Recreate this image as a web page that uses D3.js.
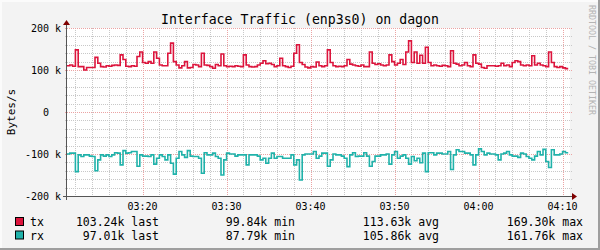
<!DOCTYPE html>
<html lang="en">
<head>
<meta charset="UTF-8">
<title>Interface Traffic (enp3s0) on dagon</title>
<script src="https://cdnjs.cloudflare.com/ajax/libs/d3/7.8.5/d3.min.js"></script>
<style>
  body { margin: 0; background: #fff; }
  svg { display: block; font-family: "DejaVu Sans Mono", monospace; }
  text { white-space: pre; }
</style>
</head>
<body>
<div id="chart"></div>
<script>
// samples every 20 s from 03:11:00, values in kB/s
const startTime = "03:11:00";
const stepSeconds = 20;

const txValues = [
  110, 112, 109, 148, 108, 108, 100, 106, 106, 106,
  130, 116, 108, 107, 110, 109, 111, 112, 111, 136,
  125, 109, 108, 110, 109, 132, 143, 118, 116, 120,
  116, 143, 128, 112, 110, 110, 140, 164, 120, 112,
  105, 110, 120, 105, 106, 113, 112, 108, 140, 112,
  111, 108, 104, 113, 110, 138, 110, 108, 109, 108,
  110, 109, 108, 136, 112, 108, 107, 108, 112, 116,
  122, 115, 116, 113, 108, 110, 128, 110, 108, 106,
  109, 140, 160, 118, 113, 107, 105, 108, 107, 119,
  110, 108, 110, 148, 118, 110, 108, 109, 108, 110,
  125, 114, 112, 110, 109, 112, 108, 108, 143, 116,
  113, 115, 112, 110, 112, 136, 120, 112, 116, 125,
  113, 143, 169.3, 118, 143, 116, 135, 116, 154, 118,
  110, 112, 110, 109, 111, 110, 108, 146, 116, 114,
  110, 112, 118, 110, 108, 136, 116, 114, 106, 104,
  110, 110, 110, 109, 110, 116, 110, 112, 108, 118,
  122, 120, 112, 110, 112, 110, 134, 112, 116, 112,
  110, 108, 143, 118, 108, 106, 108, 105, 103.24
];

const rxValues = [
  100, 98, 98, 142, 102, 106, 102, 102, 105, 106,
  140, 114, 102, 105, 102, 106, 102, 97, 98, 126,
  92, 98, 97, 94, 94, 129, 102, 105, 105, 106,
  102, 124, 110, 102, 106, 114, 102, 122, 148, 110,
  94, 102, 108, 92, 105, 106, 106, 110, 146, 97,
  102, 102, 98, 106, 110, 150, 114, 98, 100, 100,
  105, 102, 102, 102, 126, 102, 102, 102, 105, 114,
  110, 122, 110, 98, 110, 106, 106, 110, 110, 110,
  102, 126, 114, 161.76, 102, 100, 100, 100, 94, 110,
  105, 98, 98, 129, 114, 100, 102, 102, 105, 110,
  130, 102, 97, 106, 105, 105, 97, 105, 129, 118,
  105, 105, 102, 102, 100, 124, 102, 94, 110, 105,
  102, 110, 124, 106, 116, 110, 121, 98, 142, 97,
  97, 102, 98, 98, 100, 100, 94, 137, 102, 90,
  94, 94, 98, 98, 102, 126, 102, 87.79, 94, 102,
  98, 100, 100, 102, 114, 100, 98, 94, 102, 105,
  105, 108, 98, 100, 106, 110, 114, 105, 94, 102,
  89, 118, 132, 90, 102, 102, 100, 94, 97.01
];

const timeLabels = ["03:20", "03:30", "03:40", "03:50", "04:00", "04:10"];
const timeDomain = ["03:11", "04:11"];
const yTickValues = [-200000, -100000, 0, 100000, 200000];
const yTickLabels = ["-200 k", "-100 k", "0  ", "100 k", "200 k"];

const seriesNames = ["tx", "rx"];
const statNames = ["last", "min", "avg", "max"];
const txStats = [103.24, 99.84, 113.63, 169.30];
const rxStats = [97.01, 87.79, 105.86, 161.76];

const colors = { tx: "#DC143C", rx: "#20B2AA" };

const W = 600, H = 250;
const plot = { left: 67, right: 571, top: 28, bottom: 196 };

const svg = d3.select("#chart").append("svg")
  .attr("width", W).attr("height", H);

// background and 3d frame
svg.append("rect").attr("width", W).attr("height", H).attr("fill", "#F3F3F3");
svg.append("path").attr("d", `M1,${H} V1 H${W}`).attr("fill", "none")
  .attr("stroke", "#FBFBFB").attr("stroke-width", 2);
svg.append("path").attr("d", `M0,${H - 1} H${W - 1} V0`).attr("fill", "none")
  .attr("stroke", "#9E9E9E").attr("stroke-width", 2);

svg.append("rect")
  .attr("x", plot.left).attr("y", plot.top)
  .attr("width", plot.right - plot.left - 1).attr("height", plot.bottom - plot.top)
  .attr("fill", "#fff");

const parseHM = d3.utcParse("%H:%M");
const parseHMS = d3.utcParse("%H:%M:%S");
const t0 = parseHMS(startTime);

const x = d3.scaleUtc()
  .domain(timeDomain.map(parseHM))
  .range([plot.left, plot.right]);
const y = d3.scaleLinear()
  .domain([-200000, 200000])
  .range([plot.bottom, plot.top]);

const px = v => Math.round(v) + 0.5;

// grid
const grid = svg.append("g").attr("shape-rendering", "crispEdges");
const majorTimes = timeLabels.map(parseHM);
const majorKeys = new Set(majorTimes.map(d => +d));
const minorTimes = x.ticks(d3.utcMinute.every(2)).filter(d => !majorKeys.has(+d));
const hMinor = d3.range(-200000, 200001, 20000).filter(v => v % 100000 !== 0);

grid.selectAll(".vmin").data(minorTimes).join("line")
  .attr("x1", d => px(x(d))).attr("x2", d => px(x(d)))
  .attr("y1", plot.top).attr("y2", plot.bottom + 2)
  .attr("stroke", "#C8C8C8").attr("stroke-dasharray", "1,1");
grid.selectAll(".hmin").data(hMinor).join("line")
  .attr("x1", plot.left - 2).attr("x2", plot.right + 1)
  .attr("y1", d => px(y(d))).attr("y2", d => px(y(d)))
  .attr("stroke", "#C8C8C8").attr("stroke-dasharray", "1,1");
grid.selectAll(".vmaj").data(majorTimes).join("line")
  .attr("x1", d => px(x(d))).attr("x2", d => px(x(d)))
  .attr("y1", plot.top).attr("y2", plot.bottom + 2)
  .attr("stroke", "#EBA3A3").attr("stroke-dasharray", "1,1");
grid.selectAll(".hmaj").data(yTickValues).join("line")
  .attr("x1", plot.left - 2).attr("x2", plot.right + 1)
  .attr("y1", d => px(y(d))).attr("y2", d => px(y(d)))
  .attr("stroke", "#EBA3A3").attr("stroke-dasharray", "1,1");

// series
function series(values, sign) {
  const pts = values.map((v, i) => ({ t: new Date(+t0 + i * stepSeconds * 1000), v: sign * v * 1000 }));
  const last = pts[pts.length - 1];
  pts.push({ t: new Date(+last.t + stepSeconds * 1000), v: last.v });
  return pts;
}
const line = d3.line().x(d => x(d.t)).y(d => y(d.v)).curve(d3.curveStepAfter);

svg.append("path").datum(series(txValues, 1))
  .attr("fill", "none").attr("stroke", colors.tx).attr("stroke-width", 1.6)
  .attr("d", line);
svg.append("path").datum(series(rxValues, -1))
  .attr("fill", "none").attr("stroke", colors.rx).attr("stroke-width", 1.6)
  .attr("d", line);

// axes
const axisColor = "#555", arrowColor = "#7F0000";
svg.append("line")
  .attr("x1", plot.left - 4).attr("x2", plot.right + 2)
  .attr("y1", px(plot.bottom)).attr("y2", px(plot.bottom))
  .attr("stroke", axisColor).attr("shape-rendering", "crispEdges");
svg.append("line")
  .attr("x1", px(plot.left - 1)).attr("x2", px(plot.left - 1))
  .attr("y1", plot.bottom + 4).attr("y2", plot.top - 4)
  .attr("stroke", axisColor).attr("shape-rendering", "crispEdges");
svg.append("path")
  .attr("d", `M${plot.right + 6},${plot.bottom + 0.5} l-5,-3.5 v7 z`)
  .attr("fill", arrowColor);
svg.append("path")
  .attr("d", `M${plot.left - 0.5},${plot.top - 8} l-3.5,5 h7 z`)
  .attr("fill", arrowColor);

// tick labels
svg.append("g").selectAll("text").data(yTickValues).join("text")
  .attr("x", 61).attr("y", d => y(d) + 3.5)
  .attr("text-anchor", "end").attr("font-size", 10).attr("fill", "#000")
  .text((d, i) => yTickLabels[i]);
svg.append("g").selectAll("text").data(timeLabels).join("text")
  .attr("x", d => x(parseHM(d))).attr("y", 210)
  .attr("text-anchor", "middle").attr("font-size", 10).attr("fill", "#000")
  .text(d => d);

// titles
svg.append("text")
  .attr("x", 300).attr("y", 23.5).attr("text-anchor", "middle")
  .attr("font-size", 13.2).attr("fill", "#000")
  .text("Interface Traffic (enp3s0) on dagon");
svg.append("text")
  .attr("transform", `translate(15,${y(0)}) rotate(-90)`)
  .attr("text-anchor", "middle").attr("font-size", 11).attr("fill", "#000")
  .text("Bytes/s");
svg.append("text")
  .attr("transform", "translate(588.5,5) rotate(90)")
  .attr("font-size", 8.3).attr("fill", "#B4B4B4")
  .text("RRDTOOL / TOBI OETIKER");

// legend
const statEnds = [159, 295, 439, 583];
const fmt = d3.format(".2f");
const rows = svg.append("g").selectAll("g")
  .data([{ name: seriesNames[0], stats: txStats }, { name: seriesNames[1], stats: rxStats }])
  .join("g")
  .attr("transform", (d, i) => `translate(0,${226 + i * 13.5})`);
rows.append("rect")
  .attr("x", 15.5).attr("y", -8.5).attr("width", 8).attr("height", 8)
  .attr("fill", d => colors[d.name]).attr("stroke", "#000");
rows.append("text")
  .attr("x", 30).attr("font-size", 11.5).attr("fill", "#000")
  .text(d => d.name);
rows.selectAll(".stat").data(d => d.stats).join("text")
  .attr("x", (d, i) => statEnds[i]).attr("text-anchor", "end")
  .attr("font-size", 11.5).attr("fill", "#000")
  .text((d, i) => `${fmt(d)}k ${statNames[i]}`);
</script>
</body>
</html>
